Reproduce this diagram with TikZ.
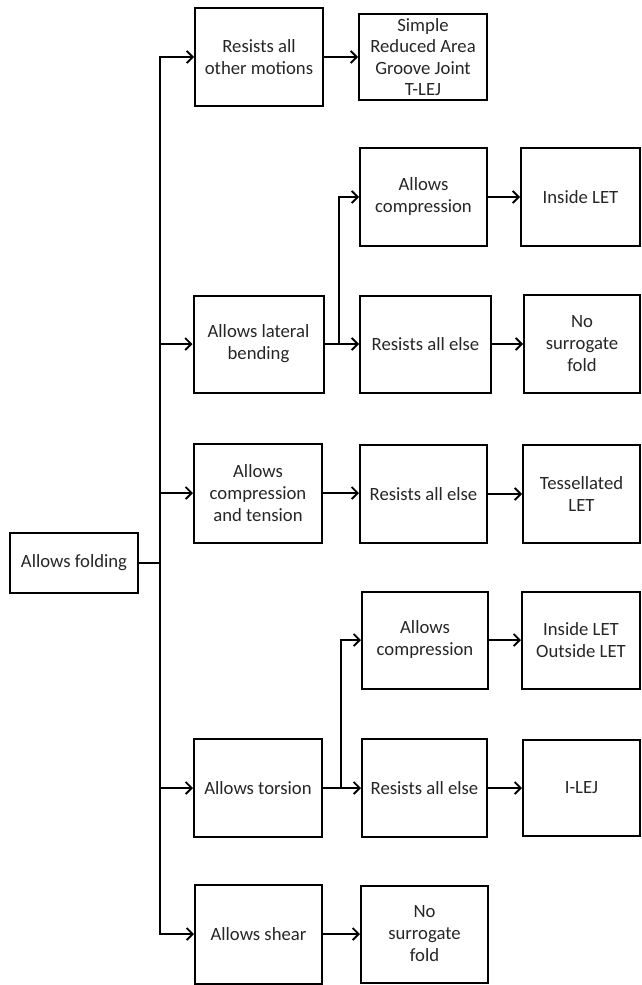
\documentclass[tikz,border=0pt]{standalone}
\usepackage{fontspec}
\setmainfont{Carlito}
\usetikzlibrary{arrows.meta,calc}
\definecolor{txt}{HTML}{262626}
\begin{document}
\begin{tikzpicture}[x=1pt,y=-1pt,
  box/.style={draw=black, line width=2pt, align=center, inner sep=1pt,
    text=txt, font=\fontsize{18.7}{22}\selectfont},
  ln/.style={line width=2pt, line join=miter},
  arr/.style={ln, -{Straight Barb[length=6pt,width=12pt,line width=1.8pt]}}]
\useasboundingbox (0,0) rectangle (642,985);
% level 0
\node[box, minimum width=128, minimum height=60] (fold) at (74,563) {Allows folding};
% level 1
\node[box, minimum width=128, minimum height=98] (ro) at (259,57) {Resists all\\other motions};
\node[box, minimum width=130, minimum height=97] (lb) at (258.5,344) {Allows lateral\\bending};
\node[box, minimum width=128, minimum height=99] (ct) at (258,493) {Allows\\compression\\and tension};
\node[box, minimum width=128, minimum height=98] (tor) at (258,788) {Allows torsion};
\node[box, minimum width=127, minimum height=99] (sh) at (258.5,934) {Allows shear};
% level 2
\node[box, minimum width=128, minimum height=86, font=\fontsize{18.7}{21.5}\selectfont] (simp) at (423,57) {Simple\\Reduced Area\\Groove Joint\\T-LEJ};
\node[box, minimum width=127, minimum height=98] (ac1) at (423.5,197) {Allows\\compression};
\node[box, minimum width=131, minimum height=97] (re1) at (425.5,344) {Resists all else};
\node[box, minimum width=127, minimum height=98] (re2) at (423.5,494) {Resists all else};
\node[box, minimum width=126, minimum height=97] (ac2) at (425,640) {Allows\\compression};
\node[box, minimum width=125, minimum height=98] (re3) at (424.5,788) {Resists all else};
\node[box, minimum width=127, minimum height=97] (ns2) at (424.5,934) {No\\surrogate\\fold};
% level 3
\node[box, minimum width=119, minimum height=98] (il) at (580.5,197) {Inside LET};
\node[box, minimum width=116, minimum height=98] (ns1) at (582,344) {No\\surrogate\\fold};
\node[box, minimum width=117, minimum height=98] (tess) at (581.5,494) {Tessellated\\LET};
\node[box, minimum width=118, minimum height=97] (io) at (581,640) {Inside LET\\Outside LET};
\node[box, minimum width=117, minimum height=96] (ilej) at (581.5,788) {I-LEJ};
% main trunk
\coordinate (tx) at (160,563);
\draw[ln] (fold.east) -- (tx);
\draw[arr] (tx |- sh.west) |- (ro.west);
\draw[arr] (tx |- ro.west) |- (sh.west);
\draw[arr] (tx |- lb.west) -- (lb.west);
\draw[arr] (tx |- ct.west) -- (ct.west);
\draw[arr] (tx |- tor.west) -- (tor.west);
% sub trunk lateral bending
\coordinate (sx1) at (339,344);
\draw[arr] (lb.east) -- (re1.west);
\draw[arr] (sx1) |- (ac1.west);
% sub trunk torsion
\coordinate (sx2) at (341,788);
\draw[arr] (tor.east) -- (re3.west);
\draw[arr] (sx2) |- (ac2.west);
% level 2 to level 3
\draw[arr] (ro.east) -- (ro.east -| simp.west);
\draw[arr] (ac1.east) -- (ac1.east -| il.west);
\draw[arr] (re1.east) -- (re1.east -| ns1.west);
\draw[arr] (ct.east) -- (ct.east -| re2.west);
\draw[arr] (re2.east) -- (re2.east -| tess.west);
\draw[arr] (ac2.east) -- (ac2.east -| io.west);
\draw[arr] (re3.east) -- (re3.east -| ilej.west);
\draw[arr] (sh.east) -- (sh.east -| ns2.west);
\end{tikzpicture}
\end{document}
